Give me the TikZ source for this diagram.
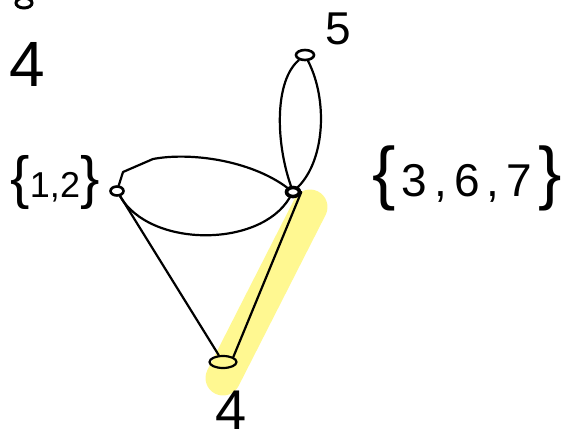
\documentclass[tikz,border=0pt]{standalone}
\usepackage{fontspec}
\setmainfont{Liberation Sans}
\usetikzlibrary{shapes.geometric}
\definecolor{hl}{RGB}{255,248,145}
\begin{document}
\begin{tikzpicture}[x=1pt,y=-1pt,
  vert/.style={ellipse,draw,line width=2.6pt,fill=white,inner sep=0pt,minimum width=13pt,minimum height=9pt},
  edge/.style={line width=2.2pt,line cap=round,line join=round},
  lbl/.style={inner sep=0pt,anchor=center}]
\useasboundingbox (0,0) rectangle (571,445);
% highlight
\draw[hl,line width=35pt,line cap=round] (310,207) -- (223,378);
% vertices
\node[vert,minimum width=16pt,minimum height=10pt,line width=3pt] (D) at (24,3) {};
\node[vert] (A) at (117,191) {};
\node[vert,line width=3.6pt] (B) at (293,192) {};
\node[vert,minimum width=18pt,minimum height=10pt] (N5) at (305,55) {};
\node[vert,line width=2.2pt,minimum width=27pt,minimum height=12pt,fill=none] (C) at (223,362) {};
% labels
\node[lbl] (L4a) at (27,64) {\fontsize{64}{64}\selectfont 4};
\node[lbl] (L5) at (338,29) {\fontsize{46}{46}\selectfont 5};
\node[lbl] (L12) at (55,183) {{\fontsize{58}{58}\selectfont\{}{\fontsize{36}{36}\selectfont 1,2}{\fontsize{58}{58}\selectfont\}}};
\node[lbl] (L367) at (467,178) {{\fontsize{70}{70}\selectfont\{}\hspace{6pt}{\fontsize{46}{46}\selectfont 3\hspace{7pt},\hspace{7pt}6\hspace{7pt},\hspace{7pt}7}\hspace{6pt}{\fontsize{70}{70}\selectfont\}}};
\node[lbl] (L4b) at (231,410) {\fontsize{56}{56}\selectfont 4};
% edges
\draw[edge] (A) -- (123,172) -- (153,159) .. controls (190,152) and (250,160) .. (B);
\draw[edge] (A) .. controls (150,248) and (260,248) .. (B);
\draw[edge] (B) .. controls (275,140) and (275,80) .. (N5);
\draw[edge] (N5) .. controls (328,100) and (325,160) .. (B);
\draw[edge] (A) -- (C);
\draw[edge] (B.east) -- (C.north east);
\end{tikzpicture}
\end{document}
